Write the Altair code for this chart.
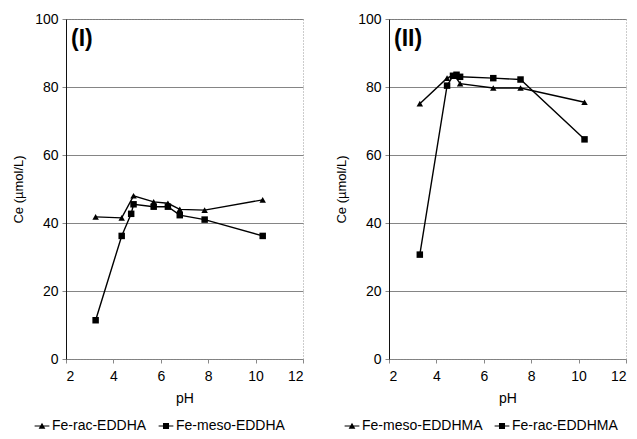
import altair as alt
import pandas as pd

FONT = "Liberation Sans"

# Panel I
ph_rac1 = [3.25, 4.35, 4.85, 5.7, 6.3, 6.8, 7.85, 10.3]
ce_rac1 = [41.8, 41.5, 48.0, 46.2, 45.8, 44.0, 43.8, 46.8]
ph_meso1 = [3.25, 4.35, 4.75, 4.85, 5.7, 6.3, 6.8, 7.85, 10.3]
ce_meso1 = [11.4, 36.2, 42.7, 45.5, 44.8, 44.8, 42.3, 41.0, 36.2]

# Panel II
ph_meso2 = [3.3, 4.45, 4.75, 5.0, 6.4, 7.55, 10.25]
ce_meso2 = [75.1, 82.6, 83.6, 81.0, 79.7, 79.7, 75.5]
ph_rac2 = [3.3, 4.45, 4.7, 4.85, 5.0, 6.4, 7.55, 10.25]
ce_rac2 = [30.7, 80.4, 83.3, 83.6, 83.0, 82.6, 82.2, 64.6]

series1 = ["Fe-rac-EDDHA", "Fe-meso-EDDHA"]
series2 = ["Fe-meso-EDDHMA", "Fe-rac-EDDHMA"]
x_ticks = [2, 4, 6, 8, 10, 12]
y_ticks = [0, 20, 40, 60, 80, 100]

TRI_LINE = "M-2.2,-0.18H2.2V0.18H-2.2Z M-1,0.85L0,-0.95L1,0.85Z"
SQ_LINE = "M-2.2,-0.18H2.2V0.18H-2.2Z M-0.9,-0.9H0.9V0.9H-0.9Z"


def frame(phs, ces, names):
    rows = []
    for ph, ce, n in zip(phs, ces, names):
        for a, b in zip(ph, ce):
            rows.append({"pH": a, "Ce": b, "series": n})
    return pd.DataFrame(rows)


df1 = frame([ph_rac1, ph_meso1], [ce_rac1, ce_meso1], series1)
df2 = frame([ph_meso2, ph_rac2], [ce_meso2, ce_rac2], series2)


def panel(df, names, label, lx):
    x = alt.X("pH:Q", scale=alt.Scale(domain=[2, 12], nice=False),
              axis=alt.Axis(values=x_ticks, title="pH", grid=False,
                            domainColor="#888", domainDash=[1, 2],
                            tickColor="#888", tickSize=4,
                            labelPadding=6, titlePadding=8))
    y = alt.Y("Ce:Q", scale=alt.Scale(domain=[0, 100], nice=False),
              axis=alt.Axis(values=y_ticks, title="Ce (µmol/L)",
                            grid=True, gridColor="#666", gridWidth=0.8,
                            domainColor="#111", tickColor="#888", tickSize=4,
                            labelPadding=4, titleFontSize=13, titlePadding=9))
    line = alt.Chart(df).mark_line(color="black", strokeWidth=1.4).encode(
        x=x, y=y, detail="series:N", order="pH:Q")
    pts = alt.Chart(df).mark_point(filled=True, color="black", size=42, opacity=1).encode(
        x=x, y=y,
        shape=alt.Shape("series:N",
                        scale=alt.Scale(domain=names, range=["triangle-up", "square"]),
                        legend=None))
    key = alt.Chart(df).mark_point(filled=True, color="black", size=42, opacity=0).encode(
        x=x, y=y,
        shape=alt.Shape("series:N",
                        scale=alt.Scale(domain=names, range=[TRI_LINE, SQ_LINE]),
                        legend=alt.Legend(title=None, orient="none", direction="horizontal",
                                          legendX=lx, legendY=400,
                                          labelFontSize=14, labelFont=FONT,
                                          labelColor="black", labelOffset=3,
                                          symbolFillColor="black",
                                          symbolOpacity=1,
                                          symbolSize=45, columnPadding=8, labelLimit=200)))
    txt = alt.Chart(pd.DataFrame({"t": [label]})).mark_text(
        align="left", baseline="top", fontSize=23, fontWeight="bold", font=FONT,
        color="black").encode(text="t:N", x=alt.value(5), y=alt.value(9))
    return alt.layer(line, pts, key, txt).resolve_scale(shape="independent").properties(
        width=237, height=340)


p1 = panel(df1, series1, "(I)", -31)
p2 = panel(df2, series2, "(II)", -44)

chart = alt.hconcat(
    p1, p2, spacing=31,
    padding={"left": 4, "top": 3, "right": 2, "bottom": 2}
).resolve_scale(shape="independent").configure_view(
    stroke="#999", strokeDash=[1, 2]
).configure_axis(
    labelFont=FONT, titleFont=FONT, labelFontSize=14, titleFontSize=14,
    labelColor="black", titleColor="black", titleFontWeight="normal"
)

chart.save("out.html", embed_options={"renderer": "svg", "actions": False})
